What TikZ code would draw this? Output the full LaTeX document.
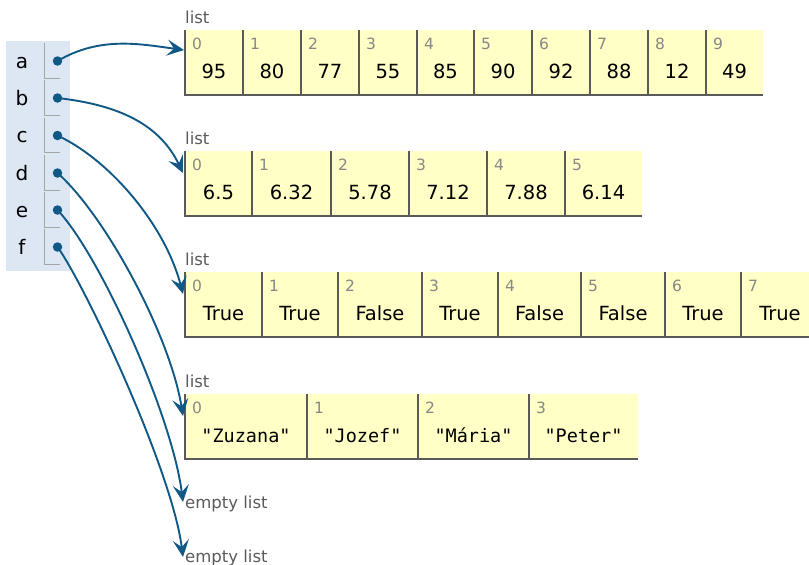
\documentclass[tikz,border=0pt]{standalone}
\usepackage{fontspec}
\setmainfont{DejaVu Sans}
\newfontfamily\monof{DejaVu Sans Mono}
\usetikzlibrary{arrows.meta}
\definecolor{cellyellow}{RGB}{255,255,198}
\definecolor{cellline}{RGB}{90,90,90}
\definecolor{idxgray}{RGB}{135,135,135}
\definecolor{labgray}{RGB}{90,90,90}
\definecolor{framebg}{RGB}{221,231,243}
\definecolor{frameline}{RGB}{165,165,165}
\definecolor{ptrblue}{RGB}{16,88,133}
\tikzset{
  cellbox/.style={fill=cellyellow, inner sep=0pt, outer sep=0pt, anchor=north west, minimum height=65pt},
  cellborder/.style={draw=cellline, line width=1.3pt},
  idx/.style={anchor=base west, inner sep=0pt, text=idxgray, font=\fontsize{15.5pt}{17pt}\selectfont},
  val/.style={anchor=base, inner sep=0pt, text=black, font=\fontsize{19.5pt}{21pt}\selectfont},
  strval/.style={anchor=base, inner sep=0pt, text=black, font=\monof\fontsize{18.5pt}{20pt}\selectfont},
  typelab/.style={anchor=base west, inner sep=0pt, text=labgray, font=\fontsize{16.5pt}{18pt}\selectfont},
  varname/.style={anchor=base, inner sep=0pt, text=black, font=\fontsize{20pt}{22pt}\selectfont},
  dotnode/.style={circle, fill=ptrblue, inner sep=0pt, minimum size=9.5pt},
  rowline/.style={draw=frameline, line width=1pt},
  ptr/.style={draw=ptrblue, line width=1.9pt, -{Stealth[length=17pt,width=16pt,inset=7pt]}},
}
\newcommand\drawlist[4]{%
  \foreach \xa/\xb/\v [count=\i from 0] in {#3} {
    \pgfmathsetmacro\xm{(\xa+\xb)/2}
    \node[cellbox, minimum width={(\xb-\xa)*1pt}] (#1c\i) at (\xa,#2) {};
    \draw[cellborder] (#1c\i.north west) |- (#1c\i.south east);
    \node[idx] (#1i\i) at (\xa+7,#2+19.5) {\i};
    \node[#4] (#1v\i) at (\xm,#2+48.5) {\v};
  }
}
\begin{document}
\begin{tikzpicture}[x=1pt,y=-1pt]
\useasboundingbox (0,0) rectangle (809,565);
\clip (0,0) rectangle (809,565);
% frame
\fill[framebg] (6,41) rectangle (70,271);
\foreach \n/\cy in {a/61,b/98,c/135.5,d/173,e/210,f/247} {
  \node[varname] (v\n) at (22,\cy+7) {\n};
  \draw[rowline] (44,\cy-18) |- (60,\cy+17);
  \node[dotnode] (d\n) at (57.5,\cy) {};
}
% lists
\node[typelab] (lab1) at (185,23) {list};
\drawlist{A}{30}{185/243/95,243/301/80,301/359/77,359/417/55,417/474/85,474/532/90,532/590/92,590/648/88,648/706/12,706/763/49}{val}
\node[typelab] (lab2) at (185,144) {list};
\drawlist{B}{151}{185/252/6.5,252/331/6.32,331/409/5.78,409/487/7.12,487/565/7.88,565/642/6.14}{val}
\node[typelab] (lab3) at (185,265) {list};
\drawlist{C}{272}{185/262/True,262/338/True,338/422/False,422/498/True,498/581/False,581/665/False,665/741/True,741/819/True}{val}
\node[typelab] (lab4) at (185,387) {list};
\drawlist{D}{394}{185/307/{"Zuzana"},307/418/{"Jozef"},418/529/{"Mária"},529/638/{"Peter"}}{strval}
\node[typelab] (lab5) at (185,508) {empty list};
\node[typelab] (lab6) at (185,562) {empty list};
% pointer targets
\coordinate (ta) at (184,50);
\coordinate (tb) at (183,173);
\coordinate (tc) at (183,294);
\coordinate (td) at (183,416);
\coordinate (te) at (183,502);
\coordinate (tf) at (183,557);
% pointers
\draw[ptr] (da.center) .. controls (100,36) and (140,44) .. (ta);
\draw[ptr] (db.center) .. controls (120,105) and (160,125) .. (tb);
\draw[ptr] (dc.center) .. controls (110,160) and (165,225) .. (tc);
\draw[ptr] (dd.center) .. controls (105,215) and (170,335) .. (td);
\draw[ptr] (de.center) .. controls (100,255) and (172,415) .. (te);
\draw[ptr] (df.center) .. controls (85,285) and (172,470) .. (tf);
\end{tikzpicture}
\end{document}
